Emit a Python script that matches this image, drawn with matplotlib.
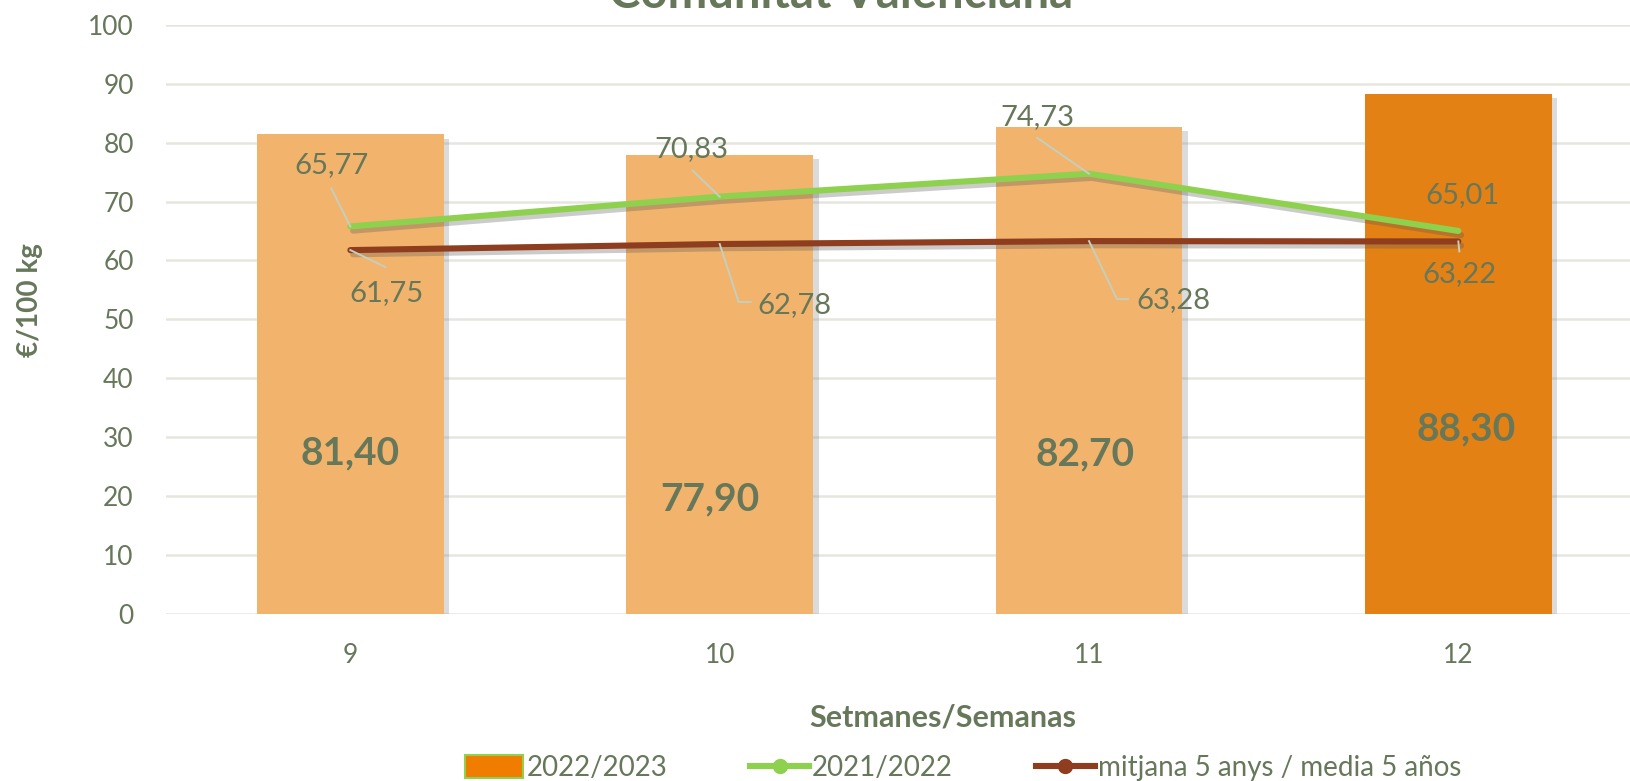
import matplotlib
matplotlib.use("Agg")
import matplotlib.pyplot as plt
import matplotlib.patheffects as pe
from matplotlib.patches import Patch
from matplotlib.lines import Line2D
import numpy as np

# ---- data ----
weeks = ["9", "10", "11", "12"]
prices_2022_2023 = [81.40, 77.90, 82.70, 88.30]
prices_2021_2022 = [65.77, 70.83, 74.73, 65.01]
avg_5_years = [61.75, 62.78, 63.28, 63.22]
yticks = [0, 10, 20, 30, 40, 50, 60, 70, 80, 90, 100]

# ---- styles / label placement (pixels) ----
TXT = "#66775A"
GRID = "#E6E6DF"
BAR_LIGHT = "#F2B36C"
BAR_DARK = "#E38115"
GREEN = "#8ED14E"
BROWN = "#8E3D1E"
LEADER = "#C5CFBE"
FONT = "Lato"

bar_label_y = [27.3, 19.5, 27.1, 31.3]
bar_label_dx = [0.0, -0.026, -0.01, 0.02]
green_text_off = [(-19, 61), (-28, 48), (-52, 57), (4, 36)]
brown_text_off = [(36, -43), (75, -61), (84, -59), (1.5, -33)]
green_leaders = [[(0, 0), (-19, 38)], [(0, 0), (-27, 26)], [(0, 0), (-52, 36)], None]
brown_leaders = [[(0, 0), (35, -17)], [(0, 0), (19, -58), (31, -58)],
                 [(0, 0), (28, -58), (39, -58)], [(0, 0), (1, -10)]]

plt.rcParams['font.family'] = [FONT, 'DejaVu Sans']

W, H = 1630, 781
fig = plt.figure(figsize=(W / 100, H / 100), dpi=100)
left, right, bottom, top = 165.7, 1643, 613.5, 25
ax = fig.add_axes([left / W, 1 - bottom / H, (right - left) / W, (bottom - top) / H])

x = np.arange(len(weeks))
ax.set_xlim(-0.5, len(weeks) - 0.5)
ax.set_ylim(0, 100)

for s in ax.spines.values():
    s.set_visible(False)
ax.set_yticks(yticks)
ax.yaxis.grid(True, color=GRID, linewidth=1.8, zorder=0)
ax.set_axisbelow(True)
ax.tick_params(axis='both', length=0, labelsize=19, labelcolor=TXT)
ax.tick_params(axis='y', pad=23)
ax.tick_params(axis='x', pad=21)
ax.set_xticks(x)
ax.set_xticklabels(weeks)

colors = [BAR_LIGHT] * (len(weeks) - 1) + [BAR_DARK]
shadow = [pe.SimplePatchShadow(offset=(4, -3), shadow_rgbFace='#888888', alpha=0.3), pe.Normal()]
bars = ax.bar(x, prices_2022_2023, width=0.506, color=colors, zorder=2)
for b in bars:
    b.set_path_effects(shadow)

lshadow = [pe.SimpleLineShadow(offset=(2, -3), shadow_color='#555555', alpha=0.3), pe.Normal()]
ax.plot(x, prices_2021_2022, color=GREEN, lw=4.4, solid_capstyle='round', zorder=4,
        path_effects=lshadow)
ax.plot(x, avg_5_years, color=BROWN, lw=4.4, solid_capstyle='round', zorder=3,
        path_effects=lshadow)

# bar value labels
for i, v in enumerate(prices_2022_2023):
    ax.text(x[i] + bar_label_dx[i], bar_label_y[i], f"{v:.2f}".replace('.', ','),
            ha='center', va='center', fontsize=28, fontweight='bold', color=TXT, zorder=6)

fig.canvas.draw()

def leader(xi, yi, segs):
    px, py = ax.transData.transform((xi, yi))
    pts = np.array([(px + dx, py + dy) for dx, dy in segs])
    d = ax.transData.inverted().transform(pts)
    ax.plot(d[:, 0], d[:, 1], color=LEADER, lw=1.4, zorder=5)

for series, offs, leads in [(prices_2021_2022, green_text_off, green_leaders),
                            (avg_5_years, brown_text_off, brown_leaders)]:
    for i, v in enumerate(series):
        if leads[i] is not None:
            leader(x[i], v, leads[i])
        ax.annotate(f"{v:.2f}".replace('.', ','), (x[i], v), xytext=offs[i],
                    textcoords='offset pixels', ha='center', va='center',
                    fontsize=21, color=TXT, zorder=6)

# axis labels
fig.text(30 / W, 1 - 300 / H, "€/100 kg", rotation=90, ha='center', va='center',
         fontsize=20, fontweight='bold', color=TXT)
fig.text(943 / W, 1 - 717 / H, "Setmanes/Semanas", ha='center', va='center',
         fontsize=22, fontweight='bold', color=TXT)

# title (cut off at top)
fig.text(841 / W, 1 - 8 / H, "Comunitat Valenciana", ha='center', va='baseline',
         fontsize=34, fontweight='bold', color=TXT)

# legend
handles = [Patch(facecolor='#F07D00', edgecolor='#92D050', linewidth=1.5),
           Line2D([], [], color=GREEN, lw=4.4, marker='o', markersize=10),
           Line2D([], [], color=BROWN, lw=4.4, marker='o', markersize=10)]
labels = ["2022/2023", "2021/2022", "mitjana 5 anys / media 5 años"]
leg = fig.legend(handles, labels, loc='center', bbox_to_anchor=(963 / W, 1 - 768 / H),
                 ncol=3, frameon=False, fontsize=20, labelcolor=TXT,
                 handlelength=2.1, handletextpad=0.12, columnspacing=3.0,
                 borderpad=0, handleheight=0.9)

fig.savefig("out.png", dpi=100)
